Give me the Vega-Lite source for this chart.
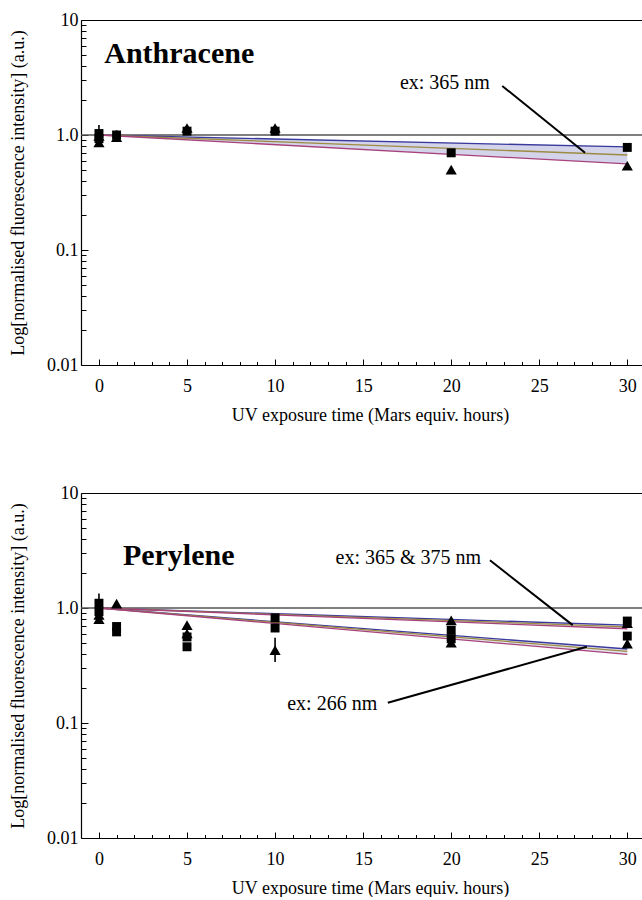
{
  "$schema": "https://vega.github.io/schema/vega-lite/v6.json",
  "background": "white",
  "autosize": {"type": "pad"},
  "padding": {"left": 9, "top": 11, "right": 0, "bottom": 0},
  "spacing": 60,
  "config": {
    "view": {"stroke": null},
    "font": "Liberation Serif",
    "axis": {
      "labelFont": "Liberation Serif",
      "titleFont": "Liberation Serif",
      "labelFontSize": 18,
      "titleFontSize": 18,
      "titleFontWeight": "normal",
      "labelColor": "black",
      "titleColor": "black",
      "domainColor": "black",
      "tickColor": "black",
      "domainWidth": 1.2,
      "tickWidth": 1,
      "grid": false,
      "labelFlush": false,
      "labelOverlap": false
    }
  },
  "datasets": {
    "anth_pts": [
      {"t": 0, "v": 1.03, "m": "square"},
      {"t": 0, "v": 0.93, "m": "square"},
      {"t": 0, "v": 0.98, "m": "triangle", "lo": 0.82, "hi": 1.22},
      {"t": 0, "v": 0.86, "m": "triangle"},
      {"t": 1, "v": 1.0, "m": "square", "lo": 0.92, "hi": 1.1},
      {"t": 1, "v": 0.96, "m": "triangle"},
      {"t": 5, "v": 1.08, "m": "square"},
      {"t": 5, "v": 1.15, "m": "triangle"},
      {"t": 10, "v": 1.08, "m": "square"},
      {"t": 10, "v": 1.15, "m": "triangle"},
      {"t": 20, "v": 0.7, "m": "square"},
      {"t": 20, "v": 0.5, "m": "triangle"},
      {"t": 30, "v": 0.78, "m": "square"},
      {"t": 30, "v": 0.54, "m": "triangle"}
    ],
    "anth_fit": [
      {"s": "a", "t": 0, "v": 1}, {"s": "a", "t": 30, "v": 0.787},
      {"s": "b", "t": 0, "v": 1}, {"s": "b", "t": 30, "v": 0.67},
      {"s": "c", "t": 0, "v": 1}, {"s": "c", "t": 30, "v": 0.56}
    ],
    "anth_band": [
      {"t": 0, "lo": 1, "hi": 1},
      {"t": 30, "lo": 0.56, "hi": 0.787}
    ],
    "per_pts": [
      {"t": 0, "v": 1.1, "m": "square"},
      {"t": 0, "v": 0.93, "m": "square"},
      {"t": 0, "v": 0.87, "m": "triangle", "lo": 0.75, "hi": 1.34},
      {"t": 0, "v": 0.8, "m": "triangle"},
      {"t": 1, "v": 1.09, "m": "triangle"},
      {"t": 1, "v": 0.69, "m": "square"},
      {"t": 1, "v": 0.62, "m": "square"},
      {"t": 5, "v": 0.71, "m": "triangle"},
      {"t": 5, "v": 0.6, "m": "triangle"},
      {"t": 5, "v": 0.56, "m": "square"},
      {"t": 5, "v": 0.46, "m": "square"},
      {"t": 10, "v": 0.82, "m": "square"},
      {"t": 10, "v": 0.67, "m": "square"},
      {"t": 10, "v": 0.43, "m": "triangle", "lo": 0.34, "hi": 0.55},
      {"t": 20, "v": 0.78, "m": "triangle"},
      {"t": 20, "v": 0.64, "m": "square"},
      {"t": 20, "v": 0.54, "m": "square"},
      {"t": 20, "v": 0.5, "m": "triangle"},
      {"t": 30, "v": 0.77, "m": "square"},
      {"t": 30, "v": 0.74, "m": "triangle"},
      {"t": 30, "v": 0.57, "m": "square"},
      {"t": 30, "v": 0.49, "m": "triangle"}
    ],
    "per_fit": [
      {"g": "u", "s": "a", "t": 0, "v": 1}, {"g": "u", "s": "a", "t": 30, "v": 0.71},
      {"g": "u", "s": "b", "t": 0, "v": 1}, {"g": "u", "s": "b", "t": 30, "v": 0.685},
      {"g": "u", "s": "c", "t": 0, "v": 1}, {"g": "u", "s": "c", "t": 30, "v": 0.66},
      {"g": "l", "s": "a", "t": 0, "v": 1}, {"g": "l", "s": "a", "t": 30, "v": 0.44},
      {"g": "l", "s": "b", "t": 0, "v": 1}, {"g": "l", "s": "b", "t": 30, "v": 0.42},
      {"g": "l", "s": "c", "t": 0, "v": 1}, {"g": "l", "s": "c", "t": 30, "v": 0.395}
    ],
    "per_band": [
      {"g": "u", "t": 0, "lo": 1, "hi": 1},
      {"g": "u", "t": 30, "lo": 0.66, "hi": 0.71},
      {"g": "l", "t": 0, "lo": 1, "hi": 1},
      {"g": "l", "t": 30, "lo": 0.395, "hi": 0.44}
    ]
  },
  "vconcat": [
    {
      "width": 578,
      "height": 345,
      "resolve": {"axis": {"x": "independent", "y": "independent"}},
      "layer": [
        {
          "data": {"name": "anth_band"},
          "mark": {"type": "area", "color": "#d3d3ea", "opacity": 1},
          "encoding": {
            "x": {"field": "t", "type": "quantitative", "scale": {"domain": [-1.02, 31.8], "nice": false, "zero": false},
                  "axis": {"orient": "top", "ticks": false, "labels": false, "domain": true, "title": null, "values": []}},
            "y": {"field": "lo", "type": "quantitative", "scale": {"type": "log", "domain": [0.01, 10], "nice": false},
                  "axis": {"orient": "left", "values": [0.02,0.03,0.04,0.05,0.06,0.07,0.08,0.09,0.2,0.3,0.4,0.5,0.6,0.7,0.8,0.9,2,3,4,5,6,7,8,9], "tickSize": -5, "labels": false, "domain": false, "title": null}},
            "y2": {"field": "hi"}
          }
        },
        {
          "data": {"values": [{}]},
          "mark": {"type": "rule", "color": "#555555", "strokeWidth": 1.6},
          "encoding": {
            "y": {"datum": 1, "type": "quantitative", "scale": {"type": "log", "domain": [0.01, 10], "nice": false}, "axis": null}
          }
        },
        {
          "data": {"name": "anth_fit"},
          "mark": {"type": "line", "strokeWidth": 1.3},
          "encoding": {
            "x": {"field": "t", "type": "quantitative", "scale": {"domain": [-1.02, 31.8], "nice": false, "zero": false},
                  "axis": {"orient": "bottom", "values": [1,2,3,4,6,7,8,9,11,12,13,14,16,17,18,19,21,22,23,24,26,27,28,29,31], "tickSize": -3.5, "labels": false, "domain": false, "title": null}},
            "y": {"field": "v", "type": "quantitative", "scale": {"type": "log", "domain": [0.01, 10], "nice": false}, "axis": null},
            "color": {"field": "s", "type": "nominal", "scale": {"domain": ["a", "b", "c"], "range": ["#3a3a9e", "#9c8b40", "#a8427c"]}, "legend": null}
          }
        },
        {
          "data": {"name": "anth_pts"},
          "transform": [{"filter": "isValid(datum.lo)"}],
          "mark": {"type": "rule", "color": "black", "strokeWidth": 1.6},
          "encoding": {
            "x": {"field": "t", "type": "quantitative", "scale": {"domain": [-1.02, 31.8], "nice": false, "zero": false}, "axis": null},
            "y": {"field": "lo", "type": "quantitative", "scale": {"type": "log", "domain": [0.01, 10], "nice": false}, "axis": null},
            "y2": {"field": "hi"}
          }
        },
        {
          "data": {"name": "anth_pts"},
          "mark": {"type": "point", "filled": true, "color": "black", "opacity": 1},
          "encoding": {
            "x": {"field": "t", "type": "quantitative", "scale": {"domain": [-1.02, 31.8], "nice": false, "zero": false},
                  "axis": {"orient": "bottom", "values": [0,5,10,15,20,25,30], "format": "d", "tickSize": -6, "labelPadding": 18, "title": "UV exposure time (Mars equiv. hours)", "titlePadding": 11}},
            "y": {"field": "v", "type": "quantitative", "scale": {"type": "log", "domain": [0.01, 10], "nice": false},
                  "axis": {"orient": "left", "values": [0.01, 0.1, 1, 10], "labelExpr": "datum.value >= 5 ? '10' : datum.value >= 0.5 ? '1.0' : datum.value >= 0.05 ? '0.1' : '0.01'", "tickSize": -7, "labelPadding": 10, "title": "Log[normalised fluorescence intensity] (a.u.)", "titlePadding": 19}},
            "shape": {"field": "m", "type": "nominal", "scale": {"domain": ["square", "triangle"], "range": ["square", "triangle-up"]}, "legend": null},
            "size": {"field": "m", "type": "nominal", "scale": {"domain": ["square", "triangle"], "range": [80, 125]}, "legend": null}
          }
        },
        {
          "data": {"values": [{}]},
          "mark": {"type": "rule", "color": "black", "strokeWidth": 2},
          "encoding": {
            "x": {"datum": 22.9, "type": "quantitative", "scale": {"domain": [-1.02, 31.8], "nice": false, "zero": false}, "axis": null},
            "y": {"datum": 2.67, "type": "quantitative", "scale": {"type": "log", "domain": [0.01, 10], "nice": false}, "axis": null},
            "x2": {"datum": 27.6},
            "y2": {"datum": 0.7}
          }
        },
        {
          "data": {"values": [{}]},
          "mark": {"type": "text", "align": "right", "baseline": "middle", "fontSize": 20, "font": "Liberation Serif", "color": "black"},
          "encoding": {
            "x": {"datum": 22.2, "type": "quantitative", "scale": {"domain": [-1.02, 31.8], "nice": false, "zero": false}, "axis": null},
            "y": {"datum": 2.83, "type": "quantitative", "scale": {"type": "log", "domain": [0.01, 10], "nice": false}, "axis": null},
            "text": {"value": "ex: 365 nm"}
          }
        },
        {
          "data": {"values": [{}]},
          "mark": {"type": "text", "align": "left", "baseline": "middle", "fontSize": 30, "fontWeight": "bold", "font": "Liberation Serif", "color": "black"},
          "encoding": {
            "x": {"datum": 0.3, "type": "quantitative", "scale": {"domain": [-1.02, 31.8], "nice": false, "zero": false}, "axis": null},
            "y": {"datum": 5.07, "type": "quantitative", "scale": {"type": "log", "domain": [0.01, 10], "nice": false}, "axis": null},
            "text": {"value": "Anthracene"}
          }
        }
      ]
    },
    {
      "width": 578,
      "height": 345,
      "resolve": {"axis": {"x": "independent", "y": "independent"}},
      "layer": [
        {
          "data": {"name": "per_band"},
          "mark": {"type": "area", "color": "#e2e2f0", "opacity": 1},
          "encoding": {
            "x": {"field": "t", "type": "quantitative", "scale": {"domain": [-1.02, 31.8], "nice": false, "zero": false},
                  "axis": {"orient": "top", "ticks": false, "labels": false, "domain": true, "title": null, "values": []}},
            "y": {"field": "lo", "type": "quantitative", "scale": {"type": "log", "domain": [0.01, 10], "nice": false},
                  "axis": {"orient": "left", "values": [0.02,0.03,0.04,0.05,0.06,0.07,0.08,0.09,0.2,0.3,0.4,0.5,0.6,0.7,0.8,0.9,2,3,4,5,6,7,8,9], "tickSize": -5, "labels": false, "domain": false, "title": null}},
            "y2": {"field": "hi"},
            "detail": {"field": "g"}
          }
        },
        {
          "data": {"values": [{}]},
          "mark": {"type": "rule", "color": "#555555", "strokeWidth": 1.6},
          "encoding": {
            "y": {"datum": 1, "type": "quantitative", "scale": {"type": "log", "domain": [0.01, 10], "nice": false}, "axis": null}
          }
        },
        {
          "data": {"name": "per_fit"},
          "mark": {"type": "line", "strokeWidth": 1.3},
          "encoding": {
            "x": {"field": "t", "type": "quantitative", "scale": {"domain": [-1.02, 31.8], "nice": false, "zero": false},
                  "axis": {"orient": "bottom", "values": [1,2,3,4,6,7,8,9,11,12,13,14,16,17,18,19,21,22,23,24,26,27,28,29,31], "tickSize": -3.5, "labels": false, "domain": false, "title": null}},
            "y": {"field": "v", "type": "quantitative", "scale": {"type": "log", "domain": [0.01, 10], "nice": false}, "axis": null},
            "color": {"field": "s", "type": "nominal", "scale": {"domain": ["a", "b", "c"], "range": ["#3a3a9e", "#9c8b40", "#a8427c"]}, "legend": null},
            "detail": {"field": "g"}
          }
        },
        {
          "data": {"name": "per_pts"},
          "transform": [{"filter": "isValid(datum.lo)"}],
          "mark": {"type": "rule", "color": "black", "strokeWidth": 1.6},
          "encoding": {
            "x": {"field": "t", "type": "quantitative", "scale": {"domain": [-1.02, 31.8], "nice": false, "zero": false}, "axis": null},
            "y": {"field": "lo", "type": "quantitative", "scale": {"type": "log", "domain": [0.01, 10], "nice": false}, "axis": null},
            "y2": {"field": "hi"}
          }
        },
        {
          "data": {"name": "per_pts"},
          "mark": {"type": "point", "filled": true, "color": "black", "opacity": 1},
          "encoding": {
            "x": {"field": "t", "type": "quantitative", "scale": {"domain": [-1.02, 31.8], "nice": false, "zero": false},
                  "axis": {"orient": "bottom", "values": [0,5,10,15,20,25,30], "format": "d", "tickSize": -6, "labelPadding": 18, "title": "UV exposure time (Mars equiv. hours)", "titlePadding": 11}},
            "y": {"field": "v", "type": "quantitative", "scale": {"type": "log", "domain": [0.01, 10], "nice": false},
                  "axis": {"orient": "left", "values": [0.01, 0.1, 1, 10], "labelExpr": "datum.value >= 5 ? '10' : datum.value >= 0.5 ? '1.0' : datum.value >= 0.05 ? '0.1' : '0.01'", "tickSize": -7, "labelPadding": 10, "title": "Log[normalised fluorescence intensity] (a.u.)", "titlePadding": 19}},
            "shape": {"field": "m", "type": "nominal", "scale": {"domain": ["square", "triangle"], "range": ["square", "triangle-up"]}, "legend": null},
            "size": {"field": "m", "type": "nominal", "scale": {"domain": ["square", "triangle"], "range": [80, 125]}, "legend": null}
          }
        },
        {
          "data": {"values": [{}]},
          "mark": {"type": "rule", "color": "black", "strokeWidth": 2},
          "encoding": {
            "x": {"datum": 22.2, "type": "quantitative", "scale": {"domain": [-1.02, 31.8], "nice": false, "zero": false}, "axis": null},
            "y": {"datum": 2.6, "type": "quantitative", "scale": {"type": "log", "domain": [0.01, 10], "nice": false}, "axis": null},
            "x2": {"datum": 26.9},
            "y2": {"datum": 0.71}
          }
        },
        {
          "data": {"values": [{}]},
          "mark": {"type": "rule", "color": "black", "strokeWidth": 2},
          "encoding": {
            "x": {"datum": 16.4, "type": "quantitative", "scale": {"domain": [-1.02, 31.8], "nice": false, "zero": false}, "axis": null},
            "y": {"datum": 0.15, "type": "quantitative", "scale": {"type": "log", "domain": [0.01, 10], "nice": false}, "axis": null},
            "x2": {"datum": 27.7},
            "y2": {"datum": 0.46}
          }
        },
        {
          "data": {"values": [{}]},
          "mark": {"type": "text", "align": "right", "baseline": "middle", "fontSize": 20, "font": "Liberation Serif", "color": "black"},
          "encoding": {
            "x": {"datum": 21.7, "type": "quantitative", "scale": {"domain": [-1.02, 31.8], "nice": false, "zero": false}, "axis": null},
            "y": {"datum": 2.71, "type": "quantitative", "scale": {"type": "log", "domain": [0.01, 10], "nice": false}, "axis": null},
            "text": {"value": "ex: 365 & 375 nm"}
          }
        },
        {
          "data": {"values": [{}]},
          "mark": {"type": "text", "align": "right", "baseline": "middle", "fontSize": 20, "font": "Liberation Serif", "color": "black"},
          "encoding": {
            "x": {"datum": 15.8, "type": "quantitative", "scale": {"domain": [-1.02, 31.8], "nice": false, "zero": false}, "axis": null},
            "y": {"datum": 0.147, "type": "quantitative", "scale": {"type": "log", "domain": [0.01, 10], "nice": false}, "axis": null},
            "text": {"value": "ex: 266 nm"}
          }
        },
        {
          "data": {"values": [{}]},
          "mark": {"type": "text", "align": "left", "baseline": "middle", "fontSize": 30, "fontWeight": "bold", "font": "Liberation Serif", "color": "black"},
          "encoding": {
            "x": {"datum": 1.36, "type": "quantitative", "scale": {"domain": [-1.02, 31.8], "nice": false, "zero": false}, "axis": null},
            "y": {"datum": 2.82, "type": "quantitative", "scale": {"type": "log", "domain": [0.01, 10], "nice": false}, "axis": null},
            "text": {"value": "Perylene"}
          }
        }
      ]
    }
  ]
}
